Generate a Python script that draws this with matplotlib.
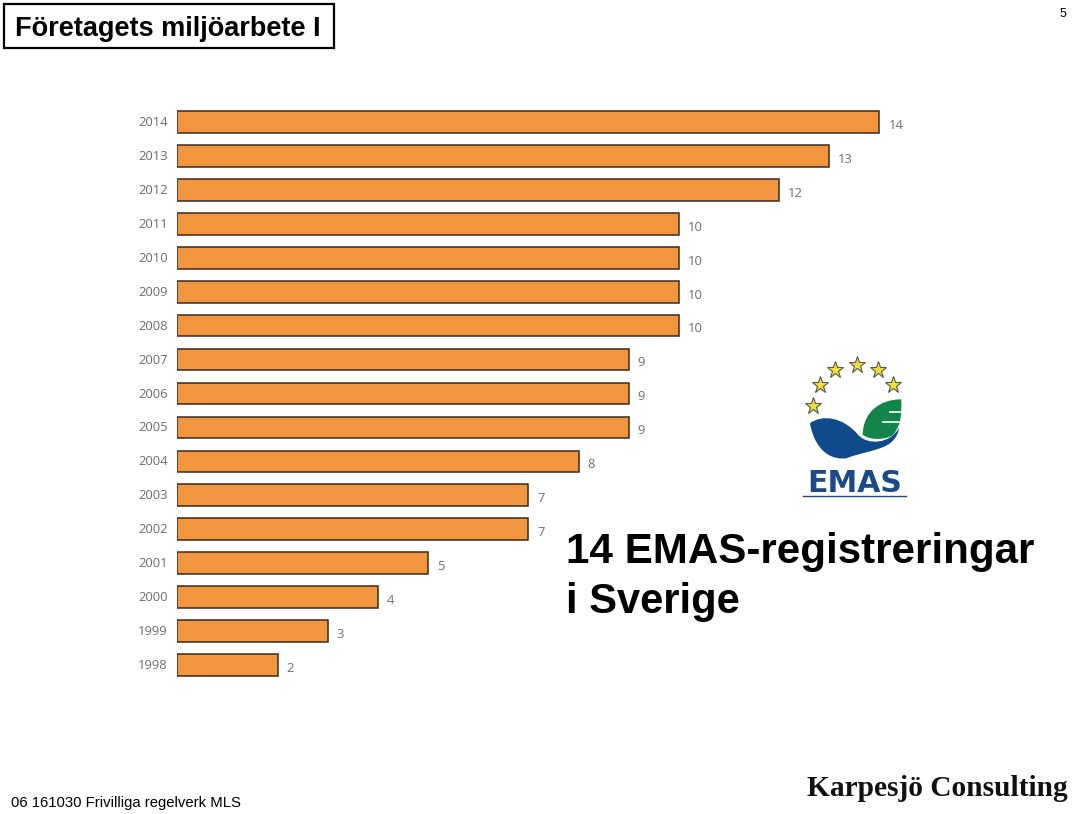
"""
EMAS registrations in Sweden, slide recreated with matplotlib
"""

import matplotlib.pyplot as plt
from matplotlib.patches import PathPatch, Rectangle
from matplotlib.path import Path
from matplotlib.transforms import ScaledTranslation

years = [1998, 1999, 2000, 2001, 2002, 2003, 2004, 2005, 2006, 2007, 2008, 2009, 2010, 2011, 2012, 2013, 2014]
registrations = [2, 3, 4, 5, 7, 7, 8, 9, 9, 9, 10, 10, 10, 10, 12, 13, 14]

W, H = 1085, 814
fig = plt.figure(figsize=(W / 100, H / 100), dpi=100, facecolor='white')

# chart axes, placed in pixels
left, right, top, bottom = 177.4, 177.4 + 50.14 * 15, 105, 682
ax = fig.add_axes([left / W, 1 - bottom / H, (right - left) / W, (bottom - top) / H])
ax.barh(range(len(years)), registrations, height=0.64, color='#F2953F', edgecolor='#3B2A1C', linewidth=1.1)
ax.set_xlim(0, 15)
ax.set_ylim(-0.5, len(years) - 0.5)
ax.set_yticks(range(len(years)))
ax.set_yticklabels(years, family='Open Sans', fontsize=9.4, color='#6E6E6E')
ax.tick_params(axis='y', length=0, pad=7)
ax.xaxis.set_visible(False)
for spine in ax.spines.values():
    spine.set_visible(False)
ax.patch.set_alpha(0)

# year labels sit a pixel above the bar centre
nudge = ScaledTranslation(0, 1 / 100, fig.dpi_scale_trans)
for label in ax.get_yticklabels():
    label.set_transform(label.get_transform() + nudge)

for i, value in enumerate(registrations):
    ax.annotate(str(value), (value, i), xytext=(6.5, -2.4), textcoords='offset points', va='center',
                family='Open Sans', fontsize=9.4, color='#6E6E6E')

# overlay in pixel coordinates for the slide furniture
ov = fig.add_axes([0, 0, 1, 1])
ov.set_xlim(0, W)
ov.set_ylim(H, 0)
ov.axis('off')
ov.patch.set_alpha(0)

ov.add_patch(Rectangle((3.5, 3.5), 330, 44, facecolor='white', edgecolor='black', linewidth=1.6))
ov.text(15, 28.5, 'Företagets miljöarbete I', family='Liberation Sans', weight='bold', fontsize=19.5,
        va='center', ha='left')
ov.text(1063, 14, '5', family='Liberation Sans', fontsize=9, va='center', ha='center')
ov.text(566, 552, '14 EMAS-registreringar', family='Liberation Sans', weight='bold', fontsize=30.3,
        va='center', ha='left')
ov.text(566, 602, 'i Sverige', family='Liberation Sans', weight='bold', fontsize=30, va='center', ha='left')
ov.text(11, 803.5, '06 161030 Frivilliga regelverk MLS', family='Liberation Sans', fontsize=10.7,
        va='center', ha='left')
ov.text(1068, 788, 'Karpesjö Consulting', family='Liberation Serif', weight='bold', fontsize=21.2,
        va='center', ha='right', color='#111111')


# logo, outline (crop px -> slide px)
def logo_xy(x, y):
    return 780 + x / 3, 340 + y / 3


def curve_patch(points, color):
    verts = [logo_xy(*p) for p in points]
    codes = [Path.MOVETO] + [Path.CURVE4] * (len(verts) - 1)
    ov.add_patch(PathPatch(Path(verts, codes), facecolor=color, edgecolor='none'))


star_x = [100, 121, 166, 231, 295, 339]
star_y = [197, 134, 90, 76, 90, 136]
for sx, sy in zip(star_x, star_y):
    px, py = logo_xy(sx, sy)
    ov.plot(px, py, marker='*', markersize=12.5, markerfacecolor='#F0DF3A', markeredgecolor='#55584A',
            markeredgewidth=0.8)

curve_patch([(248, 284), (250, 215), (300, 178), (364, 178),
             (364, 220), (366, 250), (340, 284),
             (320, 300), (270, 302), (248, 284)], '#13854A')
curve_patch([(90, 250), (125, 222), (190, 232), (232, 282),
             (262, 318), (332, 312), (358, 262),
             (346, 332), (276, 326), (198, 355),
             (130, 362), (98, 300), (90, 250)], '#0F4A8C')
for bar_y, bar_x0 in [(215, 327), (245, 305)]:
    x0, y0 = logo_xy(bar_x0, bar_y)
    x1, _ = logo_xy(365, bar_y)
    ov.plot([x0, x1], [y0, y0], color='white', linewidth=1.2, solid_capstyle='butt')

ov.text(854.5, 483.5, 'EMAS', family='DejaVu Sans', weight='bold', fontsize=21.5, color='#1B4A86',
        va='center', ha='center')
ov.plot([803, 906], [495.5, 495.5], color='#1B4A86', linewidth=1)

fig.savefig('out.png', dpi=100)
